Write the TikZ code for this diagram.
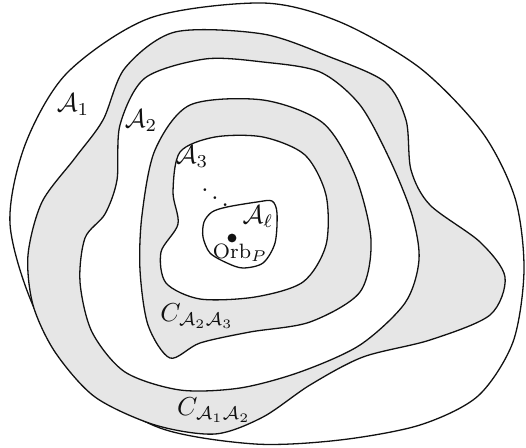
\documentclass[tikz,border=0pt]{standalone}
\usetikzlibrary{positioning}
\usepackage{xcolor}
\definecolor{band}{HTML}{E6E6E6}
\definecolor{ink}{HTML}{111111}
\tikzset{
  region/.style={draw=ink,line width=0.5pt,fill=white},
  collar/.style={region,fill=band},
  label/.style={inner sep=1pt,text=ink},
  orbit/.style={circle,fill=ink,inner sep=0pt,minimum size=3.4pt},
}

\begin{document}
\begin{tikzpicture}[x=0.385pt,y=-0.385pt]
\useasboundingbox (0,0) rectangle (526,447);
% nested regions, outermost first
\draw[region] plot[smooth cycle] coordinates {(263,3) (340,22) (420,68) (482,132) (515,198) (524,270) (513,342) (478,396) (420,425) (340,440) (255,444) (160,428) (83,381) (35,310) (10,224) (25,145) (67,73) (150,18)};
\draw[collar] plot[smooth cycle] coordinates {(263,34) (330,57) (385,82) (406,120) (411,170) (430,205) (480,242) (505,277) (490,315) (430,340) (363,357) (310,385) (263,417) (215,434) (155,425) (95,397) (55,352) (33,305) (28,255) (42,202) (75,158) (103,120) (125,68) (175,32)};
\draw[region] plot[smooth cycle] coordinates {(263,62) (320,72) (360,105) (390,160) (412,215) (419,260) (405,303) (360,345) (300,372) (240,388) (180,390) (125,372) (92,332) (80,282) (85,238) (105,214) (117,180) (120,125) (145,78) (205,59)};
\draw[collar] plot[smooth cycle] coordinates {(263,100) (323,123) (355,175) (371,240) (360,292) (310,322) (250,332) (200,343) (170,358) (148,325) (140,270) (142,215) (155,150) (190,105)};
\draw[region] plot[smooth cycle] coordinates {(263,137) (305,155) (326,195) (326,245) (303,282) (255,297) (200,299) (166,283) (161,252) (178,224) (173,192) (180,152) (215,137)};
\draw[region] plot[smooth cycle] coordinates {(227,207) (257,202) (272,201) (277,213) (275,243) (263,263) (243,268) (227,263) (210,253) (203,237) (204,222) (212,212)};
% labels
\node[label] (a1) at (73,105) {$\mathcal{A}_1$};
\node[label] (a2) at (141,121) {$\mathcal{A}_2$};
\node[label] (a3) at (192,157) {$\mathcal{A}_3$};
\node[label] (dots) at (215,190) {$\ddots$};
\node[label] (al) at (258,217) {$\mathcal{A}_\ell$};
\node[orbit] (p) at (232,238) {};
\node[label,font=\footnotesize] (orb) at (240,253) {$\mathrm{Orb}_P$};
\node[label] (c23) at (197,316) {$C_{\mathcal{A}_2\mathcal{A}_3}$};
\node[label] (c12) at (214,410) {$C_{\mathcal{A}_1\mathcal{A}_2}$};
\end{tikzpicture}
\end{document}
